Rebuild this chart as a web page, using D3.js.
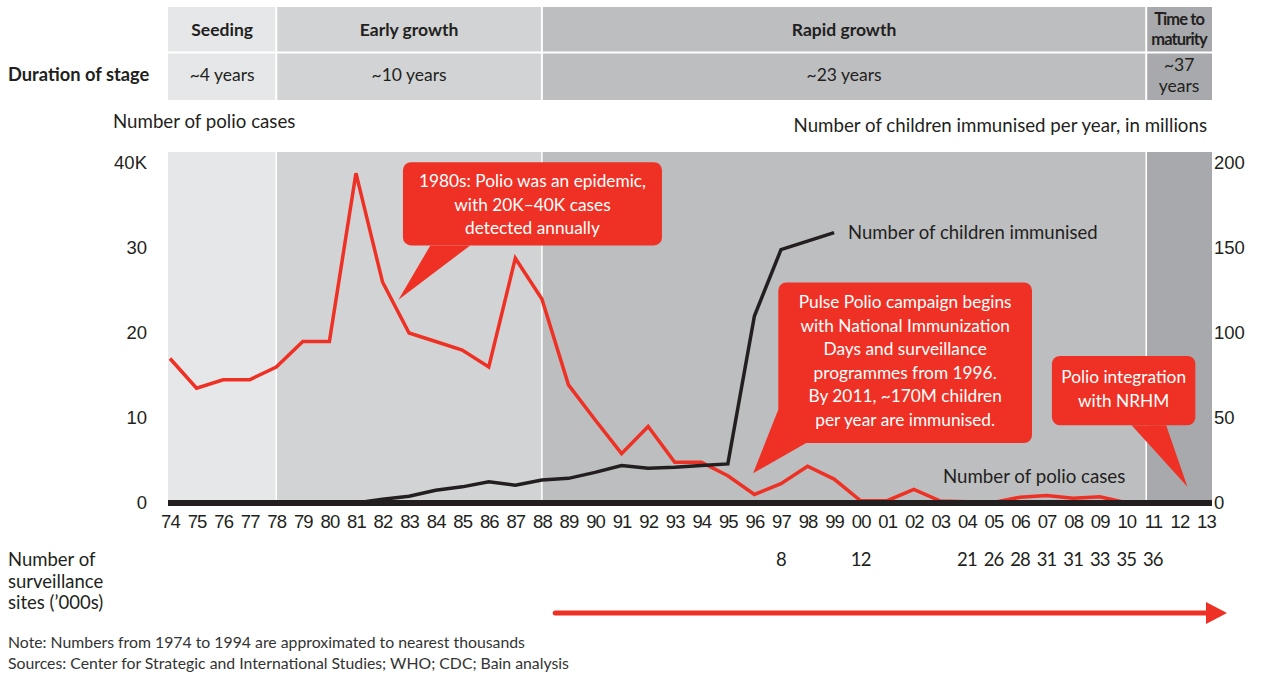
<!DOCTYPE html>
<html>
<head>
<meta charset="utf-8">
<script src="https://cdn.jsdelivr.net/npm/d3@7"></script>
<style>
    body { margin: 0; background: #fff; }
    svg { font-family: Lato, 'Open Sans', sans-serif; }
</style>
</head>
<body>
<div id="chart"></div>
<script>
'use strict';

// polio cases per year, 1974-2013
const years = d3.range(1974, 2014);
const polioCases = [17000, 13500, 14500, 14500, 16000, 19000, 19000, 38800, 26000, 20000,
    19000, 18000, 16000, 28800, 24000, 13900, 9800, 5800, 9000, 4800,
    4800, 3200, 1005, 2275, 4322, 2817, 265, 268, 1600, 225,
    134, 66, 676, 874, 559, 741, 42, 1, 0, 0];

// children immunised per year (millions)
const immunYears = d3.range(1981, 2000);
const immunised = [0, 2.2, 4, 7.5, 9.5, 12.5, 10.5, 13.5, 14.5, 18,
    22, 20.5, 21, 22, 23, 110, 149, 154, 159];

// surveillance sites ('000s)
const siteYears = [1997, 2000, 2004, 2005, 2006, 2007, 2008, 2009, 2010, 2011];
const sites = [8, 12, 21, 26, 28, 31, 31, 33, 35, 36];

// stages
const stageNames = [['Seeding'], ['Early growth'], ['Rapid growth'], ['Time to', 'maturity']];
const stageDurations = [['~4 years'], ['~10 years'], ['~23 years'], ['~37', 'years']];
const stageBounds = [1974, 1978, 1988, 2010.75, 2013];
const stageColors = ['#e6e7e8', '#d1d3d4', '#bcbec0', '#a7a9ac'];

const leftTicks = [0, 10000, 20000, 30000, 40000];
const rightTicks = [0, 50, 100, 150, 200];

const RED = '#ee3124',
    DARK = '#231f20',
    W = 1261, H = 675,
    plotLeft = 168, plotRight = 1212, plotTop = 152;

const svg = d3.select('#chart').append('svg')
    .attr('width', W).attr('height', H);

const x = d3.scaleLinear().domain([1974, 2013]).range([170, 1206]);
const yCases = d3.scaleLinear().domain([0, 40000]).range([503, 163]);
const yKids = d3.scaleLinear().domain([0, 200]).range([503, 163]);

function edge(i) {
    if (i === 0) return plotLeft;
    if (i === stageBounds.length - 1) return plotRight;
    return x(stageBounds[i]);
}

// ---- header table
const head = svg.append('g');
stageNames.forEach((nm, i) => {
    let x0 = edge(i), x1 = edge(i + 1), cx = (x0 + x1) / 2;
    head.append('rect')
        .attr('x', x0).attr('y', 7).attr('width', x1 - x0).attr('height', 45)
        .attr('fill', stageColors[i]);
    head.append('rect')
        .attr('x', x0).attr('y', 53).attr('width', x1 - x0).attr('height', 47)
        .attr('fill', stageColors[i]);
    let t = head.append('text')
        .attr('text-anchor', 'middle').attr('font-weight', 700)
        .attr('fill', DARK).attr('font-size', nm.length > 1 ? 16.5 : 17.5)
        .attr('letter-spacing', nm.length > 1 ? -0.9 : 0);
    nm.forEach((s, j) => {
        t.append('tspan').attr('x', cx)
            .attr('y', nm.length > 1 ? 25 + j * 20 : 36).text(s);
    });
    let d = stageDurations[i];
    let t2 = head.append('text')
        .attr('text-anchor', 'middle').attr('fill', DARK).attr('font-size', 17.5);
    d.forEach((s, j) => {
        t2.append('tspan').attr('x', cx)
            .attr('y', d.length > 1 ? 71 + j * 21 : 81).text(s);
    });
});
// white separators
stageBounds.slice(1, -1).forEach((b, i) => {
    head.append('line')
        .attr('x1', edge(i + 1)).attr('x2', edge(i + 1))
        .attr('y1', 7).attr('y2', 100)
        .attr('stroke', '#fff').attr('stroke-width', 2);
});
head.append('line')
    .attr('x1', plotLeft).attr('x2', plotRight).attr('y1', 52.5).attr('y2', 52.5)
    .attr('stroke', '#fff').attr('stroke-width', 2);

svg.append('text')
    .attr('x', 8).attr('y', 81)
    .attr('font-weight', 700).attr('font-size', 18.3).attr('fill', DARK)
    .text('Duration of stage');

// axis titles
svg.append('text')
    .attr('x', 113).attr('y', 128).attr('font-size', 18.7).attr('fill', DARK)
    .text('Number of polio cases');
svg.append('text')
    .attr('x', 1207).attr('y', 132).attr('text-anchor', 'end')
    .attr('font-size', 18.7).attr('fill', DARK)
    .text('Number of children immunised per year, in millions');

// ---- plot bands
const plot = svg.append('g');
stageColors.forEach((c, i) => {
    plot.append('rect')
        .attr('x', edge(i)).attr('y', plotTop)
        .attr('width', edge(i + 1) - edge(i))
        .attr('height', yCases(0) - plotTop)
        .attr('fill', c);
});
stageBounds.slice(1, -1).forEach((b, i) => {
    plot.append('line')
        .attr('x1', edge(i + 1)).attr('x2', edge(i + 1))
        .attr('y1', plotTop).attr('y2', yCases(0))
        .attr('stroke', '#fff').attr('stroke-width', 1.5);
});

// ---- axes
const leftAxis = d3.axisLeft(yCases)
    .tickValues(leftTicks).tickSize(0).tickPadding(0)
    .tickFormat(d => d === 40000 ? '40K' : d / 1000);
svg.append('g').attr('transform', 'translate(147,0)')
    .call(leftAxis)
    .call(g => g.select('.domain').remove())
    .selectAll('text').attr('font-size', 18.5).attr('fill', DARK)
    .attr('font-family', null);

const rightAxis = d3.axisRight(yKids)
    .tickValues(rightTicks).tickSize(0).tickPadding(0);
svg.append('g').attr('transform', 'translate(1214,0)')
    .call(rightAxis)
    .call(g => g.select('.domain').remove())
    .selectAll('text').attr('font-size', 18.5).attr('fill', DARK)
    .attr('font-family', null);

const xAxis = d3.axisBottom(x)
    .tickValues(years).tickSize(0).tickPadding(0)
    .tickFormat(d => d3.format('02d')(d % 100));
svg.append('g').attr('transform', 'translate(0,515)')
    .call(xAxis)
    .call(g => g.select('.domain').remove())
    .selectAll('text').attr('font-size', 18.5).attr('fill', DARK)
    .attr('font-family', null).attr('letter-spacing', -0.9);

// ---- lines
svg.append('path')
    .datum(years.map((yr, i) => [yr, polioCases[i]]))
    .attr('fill', 'none').attr('stroke', RED).attr('stroke-width', 3.5)
    .attr('d', d3.line().x(d => x(d[0])).y(d => yCases(d[1])));

svg.append('line')
    .attr('x1', plotLeft).attr('x2', plotRight)
    .attr('y1', yCases(0)).attr('y2', yCases(0))
    .attr('stroke', DARK).attr('stroke-width', 6);

svg.append('path')
    .datum(immunYears.map((yr, i) => [yr, immunised[i]]))
    .attr('fill', 'none').attr('stroke', DARK).attr('stroke-width', 3.5)
    .attr('d', d3.line().x(d => x(d[0])).y(d => yKids(d[1])));

svg.append('text')
    .attr('x', x(1999) + 14).attr('y', yKids(159) + 6)
    .attr('font-size', 18.5).attr('fill', DARK)
    .text('Number of children immunised');
svg.append('text')
    .attr('x', x(2004) - 24).attr('y', 483)
    .attr('font-size', 18.7).attr('fill', DARK)
    .text('Number of polio cases');

// ---- callouts: box [year0, year1, top, bottom] in cases units, pointer [base a, base b, tip]
const callouts = [
    {
        box: [1982.77, 1992.52, 40100, 30300],
        ptr: [[1983.8, 30300], [1985.3, 30300], [1982.6, 23900]],
        lines: ['1980s: Polio was an epidemic,', 'with 20K\u201340K cases', 'detected annually'],
        y0: 187
    },
    {
        box: [1996.9, 2006.45, 25950, 7050],
        ptr: [[1996.9, 11000], [1997.95, 7050], [1995.95, 3500]],
        lines: ['Pulse Polio campaign begins', 'with National Immunization', 'Days and surveillance',
            'programmes from 1996.', 'By 2011, ~170M children', 'per year are immunised.'],
        y0: 308
    },
    {
        box: [2007.2, 2012.6, 17300, 9150],
        ptr: [[2010.2, 9150], [2011.5, 9150], [2012.3, 1900]],
        lines: ['Polio integration', 'with NRHM'],
        y0: 383
    }
];

callouts.forEach(c => {
    let g = svg.append('g');
    let bx0 = x(c.box[0]), bx1 = x(c.box[1]),
        by0 = yCases(c.box[2]), by1 = yCases(c.box[3]);
    g.append('rect')
        .attr('x', bx0).attr('y', by0)
        .attr('width', bx1 - bx0).attr('height', by1 - by0)
        .attr('rx', 8).attr('fill', RED);
    g.append('path')
        .attr('d', d3.line()(c.ptr.map(p => [x(p[0]), yCases(p[1])])) + 'Z')
        .attr('fill', RED);
    let t = g.append('text')
        .attr('text-anchor', 'middle').attr('fill', '#fff').attr('font-size', 17.3);
    c.lines.forEach((s, j) => {
        t.append('tspan').attr('x', (bx0 + bx1) / 2)
            .attr('y', c.y0 + j * 23.6).text(s);
    });
});

// ---- surveillance sites row
svg.append('text')
    .attr('font-size', 18.5).attr('fill', DARK)
    .selectAll('tspan')
    .data(['Number of', 'surveillance', 'sites (\u2019000s)'])
    .enter().append('tspan')
    .attr('x', 8).attr('y', (d, i) => 566 + i * 21.5)
    .text(d => d);

svg.append('g').selectAll('text')
    .data(siteYears)
    .enter().append('text')
    .attr('x', d => x(d)).attr('y', 566)
    .attr('text-anchor', 'middle').attr('font-size', 18.5).attr('fill', DARK)
    .attr('letter-spacing', -0.9)
    .text((d, i) => sites[i]);

// red arrow
svg.append('line')
    .attr('x1', x(1988.5)).attr('x2', x(2013))
    .attr('y1', 613).attr('y2', 613)
    .attr('stroke', RED).attr('stroke-width', 5).attr('stroke-linecap', 'round');
svg.append('path')
    .attr('d', `M${x(2013)},602L${x(2013) + 21},613L${x(2013)},624Z`)
    .attr('fill', RED);

// notes
svg.append('text')
    .attr('font-size', 15.8).attr('fill', '#333')
    .selectAll('tspan')
    .data(['Note: Numbers from 1974 to 1994 are approximated to nearest thousands',
        'Sources: Center for Strategic and International Studies; WHO; CDC; Bain analysis'])
    .enter().append('tspan')
    .attr('x', 8).attr('y', (d, i) => 648 + i * 21)
    .text(d => d);
</script>
</body>
</html>
